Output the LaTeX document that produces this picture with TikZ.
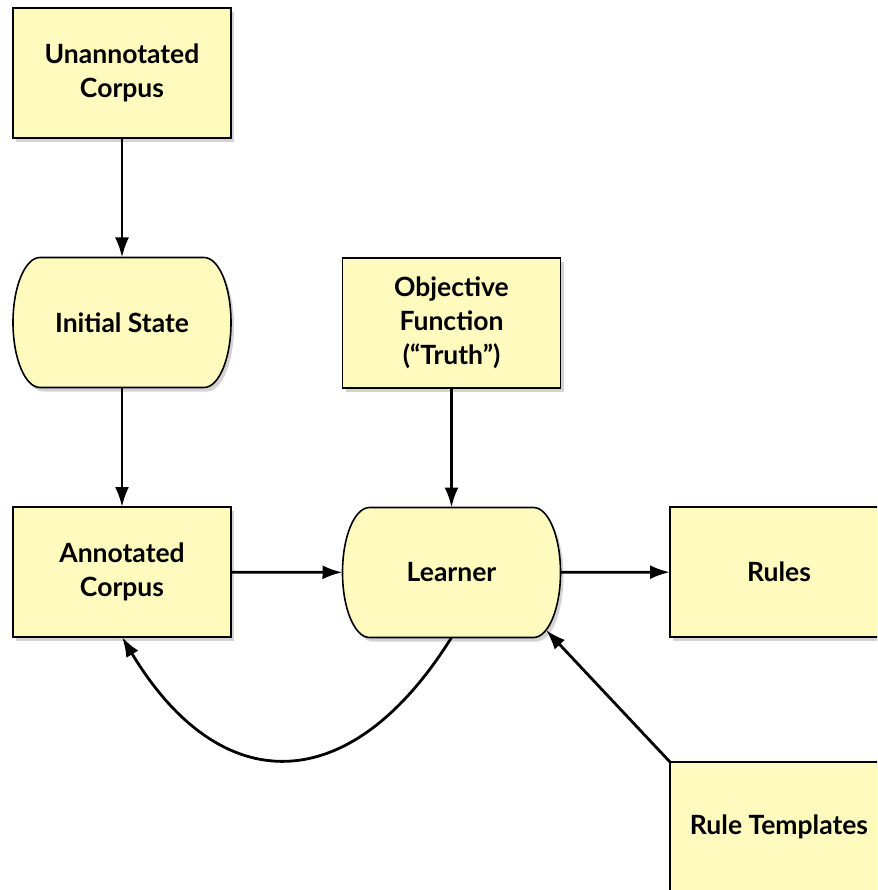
\documentclass[tikz,border=0pt]{standalone}
\usepackage{fontspec}
\setmainfont{Lato}
\usetikzlibrary{shadows,arrows.meta,calc,backgrounds}
\definecolor{pad}{HTML}{FFFBBE}

\tikzset{
	base/.style={minimum width=218pt, minimum height=130pt, outer sep=0pt,
		align=center, font=\bfseries\fontsize{26.5}{34}\selectfont},
	shade/.style={drop shadow={shadow xshift=3pt, shadow yshift=-4pt, opacity=0.35}},
	box/.style={base, draw, line width=1.6pt, fill=pad, shade},
	pill/.style={base},
	pillpath/.style={draw, line width=1.6pt, fill=pad, shade},
	flow/.style={-{Latex[length=20pt,width=14pt]}, line width=2.8pt}
}

\begin{document}
\begin{tikzpicture}[x=1pt,y=-1pt]
	\useasboundingbox (0,0) rectangle (877,890);
	\clip (0,0) rectangle (877,890);
	\node [box] (raw) at (122,73) {Unannotated\\Corpus};
	\node [pill] (init) at (122,322.5) {Initial State};
	\node [box] (obj) at (451.5,323) {Objective\\Function\\(“Truth”)};
	\node [box] (anno) at (122,572) {Annotated\\Corpus};
	\node [pill] (learner) at (451.5,572.5) {Learner};
	\node [box] (rules) at (779,572) {Rules};
	\node [box] (tmpl) at (779,827) {Rule Templates};
	% rounded ends of the two process nodes
	\begin{scope}[on background layer]
	\foreach \n in {init,learner}
		\path [pillpath] ($(\n.north west)+(27,0)$) -- ($(\n.north east)+(-27,0)$)
			arc [start angle=90, end angle=-90, x radius=27pt, y radius=65pt]
			-- ($(\n.south west)+(27,0)$)
			arc [start angle=270, end angle=90, x radius=27pt, y radius=65pt] -- cycle;
	\end{scope}
	\coordinate (lrncorner) at (546,630);
	\draw [flow] (raw) -- (init);
	\draw [flow] (init) -- (anno);
	\draw [flow] (obj) -- (learner);
	\draw [flow] (anno) -- (learner);
	\draw [flow] (learner) -- (rules);
	\draw [flow] (tmpl.north west) -- (lrncorner);
	\draw [flow] (learner.south) .. controls (350,800) and (220,800) .. (anno.south);
\end{tikzpicture}
\end{document}
